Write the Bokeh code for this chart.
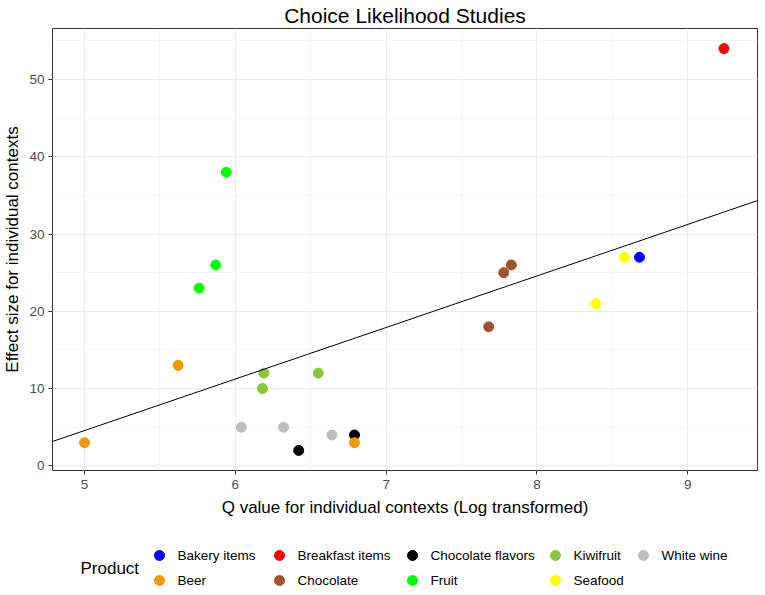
import numpy as np
from bokeh.plotting import figure
from bokeh.models import Range1d, SingleIntervalTicker, Slope, ColumnDataSource
from bokeh.layouts import column
from bokeh.core.properties import value
from bokeh.embed import file_html
from bokeh.resources import INLINE

FONT = "Liberation Sans"

# ---- data ----
products = ["Bakery items", "Beer", "Breakfast items", "Chocolate", "Chocolate flavors",
            "Fruit", "Kiwifruit", "Seafood", "White wine"]
product_colors = ["#0000FF", "#EE9A00", "#FF0000", "#A0522D", "#000000",
                  "#00FF00", "#8CC63F", "#FFFF00", "#BEBEBE"]

point_product = ["Bakery items", "Breakfast items",
                 "Chocolate flavors", "Chocolate flavors",
                 "Chocolate", "Chocolate", "Chocolate",
                 "Fruit", "Fruit", "Fruit",
                 "Kiwifruit", "Kiwifruit", "Kiwifruit",
                 "Seafood", "Seafood",
                 "White wine", "White wine", "White wine",
                 "Beer", "Beer", "Beer"]
q_value = [8.68, 9.24,
           6.42, 6.79,
           7.68, 7.78, 7.83,
           5.94, 5.76, 5.87,
           6.19, 6.18, 6.55,
           8.39, 8.58,
           6.04, 6.32, 6.64,
           5.00, 5.62, 6.79]
effect_size = [27, 54,
               2, 4,
               18, 25, 26,
               38, 23, 26,
               12, 10, 12,
               21, 27,
               5, 5, 4,
               3, 13, 3]

color_of = dict(zip(products, product_colors))
src = ColumnDataSource(dict(x=q_value, y=effect_size, product=point_product,
                            color=[color_of[k] for k in point_product]))

BL, BR = 42, 2
FW = 705

# ---- main plot ----
p = figure(frame_width=FW, frame_height=442,
           x_range=Range1d(4.7875, 9.4625), y_range=Range1d(-0.6, 56.6),
           output_backend="svg", toolbar_location=None, title="Choice Likelihood Studies",
           min_border_left=BL, min_border_right=BR, min_border_top=20, min_border_bottom=51)
p.title.align = "center"
p.title.text_font = FONT
p.title.text_font_size = "21px"
p.title.text_font_style = "normal"
p.title.text_color = "#000000"
p.title.standoff = 3

p.xaxis.ticker = SingleIntervalTicker(interval=1, num_minor_ticks=2)
p.yaxis.ticker = SingleIntervalTicker(interval=10, num_minor_ticks=2)
p.xaxis.axis_label = "Q value for individual contexts (Log transformed)"
p.yaxis.axis_label = "Effect size for individual contexts"
for ax in (p.xaxis, p.yaxis):
    ax.axis_label_text_font = FONT
    ax.axis_label_text_font_size = "17px"
    ax.axis_label_text_font_style = "normal"
    ax.axis_label_text_color = "#000000"
    ax.major_label_text_font = FONT
    ax.major_label_text_font_size = "13.5px"
    ax.major_label_text_color = "#4D4D4D"
    ax.axis_line_color = None
    ax.major_tick_line_color = "#333333"
    ax.major_tick_in = 0
    ax.major_tick_out = 4
    ax.minor_tick_line_color = None
p.xaxis.major_label_standoff = 5
p.xaxis.axis_label_standoff = 6
p.yaxis.major_label_standoff = 4
p.yaxis.axis_label_standoff = 4

p.grid.grid_line_color = "#EBEBEB"
p.grid.grid_line_width = 1
p.grid.minor_grid_line_color = "#F4F4F4"
p.grid.minor_grid_line_width = 1
p.outline_line_color = "#333333"
p.outline_line_width = 1
p.background_fill_color = "#FFFFFF"

slope, intercept = np.polyfit(q_value, effect_size, 1)
p.add_layout(Slope(gradient=slope, y_intercept=intercept, line_color="#000000", line_width=1))

p.scatter(x="x", y="y", source=src, size=10, fill_color="color", line_color="color")

# ---- legend (coordinates in page pixels minus the 8px margin) ----
leg_h = 66
leg = figure(frame_width=FW, frame_height=leg_h,
             x_range=Range1d(BL, BL + FW), y_range=Range1d(leg_h, 0),
             output_backend="svg", toolbar_location=None,
             min_border_left=BL, min_border_right=BR, min_border_top=0, min_border_bottom=0)
leg.axis.visible = False
leg.grid.visible = False
leg.outline_line_color = None

col_x = [149, 269, 402, 545, 633]
row_y = [34, 59]
dot_x = [col_x[i // 2] for i in range(len(products))]
dot_y = [row_y[i % 2] for i in range(len(products))]
leg.scatter(x=dot_x, y=dot_y, size=10, fill_color=product_colors, line_color=product_colors)
leg.text(x=[d + 18 for d in dot_x], y=dot_y, text=products, text_baseline="middle",
         text_align="left", text_font=value(FONT), text_font_size=value("13.5px"),
         text_color="#000000")
leg.text(x=[70], y=[47], text=["Product"], text_baseline="middle", text_align="left",
         text_font=value(FONT), text_font_size=value("17px"), text_color="#000000")

layout = column(p, leg)
open("out.html", "w").write(file_html(layout, INLINE))
